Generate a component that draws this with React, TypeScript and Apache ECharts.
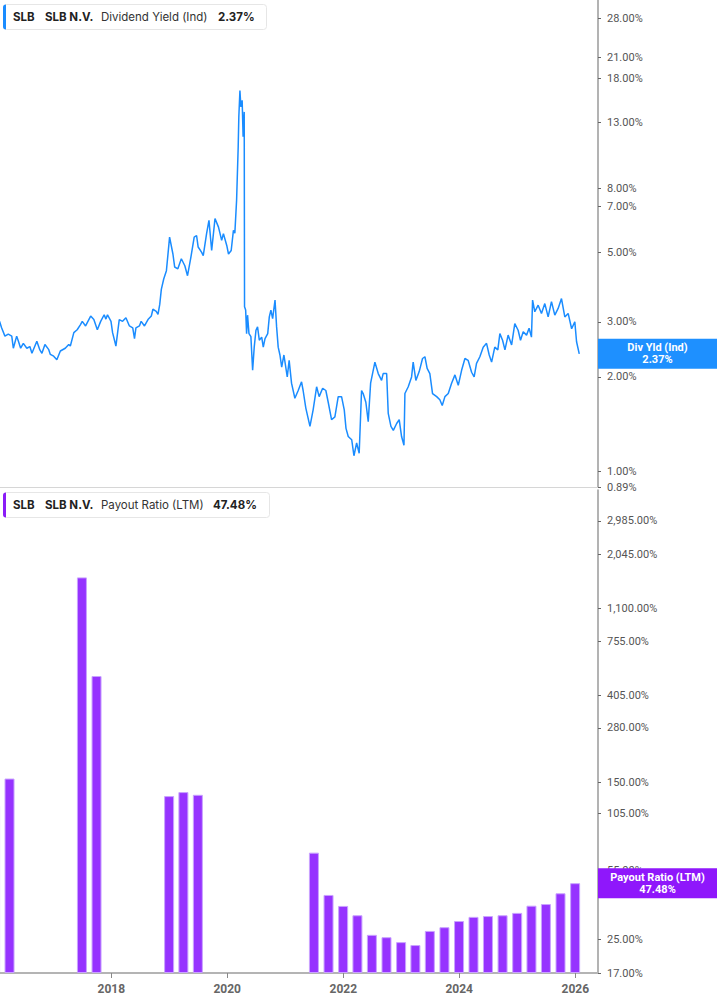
import React, { useEffect, useRef } from 'react';
import * as echarts from 'echarts';

// ---------- Data ----------
const yieldDates = [
  '2016-01-28','2016-02-10','2016-03-02','2016-03-23','2016-04-14','2016-04-24','2016-05-15','2016-05-26','2016-06-09','2016-06-26',
  '2016-07-18','2016-08-06','2016-08-19','2016-09-19','2016-10-08','2016-10-21','2016-11-09','2016-12-02','2016-12-13',
  '2017-01-03','2017-01-23','2017-02-14','2017-03-17','2017-04-08','2017-04-18','2017-05-10','2017-05-31','2017-06-21','2017-07-02',
  '2017-07-23','2017-08-24','2017-09-13','2017-10-05','2017-10-26','2017-11-17','2017-11-28','2017-12-08','2017-12-30',
  '2018-01-09','2018-01-30','2018-02-20','2018-03-13','2018-04-03','2018-04-25','2018-05-16','2018-05-27','2018-06-05','2018-06-27',
  '2018-07-08','2018-07-29','2018-08-20','2018-09-10','2018-09-20','2018-10-11','2018-10-22','2018-11-02','2018-11-12','2018-11-27',
  '2018-12-14','2019-01-03',
  '2019-01-24','2019-02-04','2019-02-24','2019-03-18','2019-04-09','2019-04-26','2019-05-17','2019-06-07','2019-06-22','2019-07-02',
  '2019-07-24','2019-08-03','2019-08-24','2019-09-08','2019-09-25','2019-10-16','2019-11-07','2019-11-27','2019-12-08','2019-12-29',
  '2020-01-09','2020-01-26','2020-02-09','2020-02-18','2020-02-29','2020-03-10','2020-03-14','2020-03-21','2020-03-27','2020-04-04',
  '2020-04-10','2020-04-17','2020-04-19','2020-04-26','2020-05-02','2020-05-08','2020-05-17','2020-05-29','2020-06-09','2020-06-19',
  '2020-06-30','2020-07-10','2020-07-21','2020-08-05','2020-08-15','2020-08-26','2020-09-12','2020-09-22','2020-10-02','2020-10-13',
  '2020-10-28','2020-11-07','2020-11-17','2020-11-28','2020-12-09','2020-12-23',
  '2021-01-13','2021-01-25','2021-02-09','2021-03-02','2021-03-23','2021-04-13','2021-04-23','2021-05-10','2021-06-05','2021-06-25',
  '2021-07-17','2021-08-02','2021-08-24','2021-09-13','2021-09-28','2021-10-19','2021-11-09','2021-11-30','2021-12-21',
  '2022-01-07','2022-01-18','2022-02-01','2022-02-23','2022-03-09','2022-03-26','2022-04-11','2022-04-26','2022-05-06','2022-05-23',
  '2022-06-07','2022-06-22','2022-07-19','2022-08-09','2022-08-30','2022-09-09','2022-10-01','2022-10-11','2022-10-28','2022-11-12',
  '2022-12-03','2022-12-19',
  '2023-01-03','2023-01-18','2023-01-24','2023-02-14','2023-03-07','2023-03-17','2023-04-03','2023-04-24','2023-05-15','2023-05-30',
  '2023-06-13','2023-06-30','2023-07-17','2023-08-12','2023-09-01','2023-09-16','2023-10-03','2023-10-24','2023-11-14','2023-12-05',
  '2023-12-26',
  '2024-01-16','2024-02-06','2024-02-26','2024-03-19','2024-04-04','2024-04-19','2024-05-10','2024-05-31','2024-06-21','2024-07-08',
  '2024-07-23','2024-08-12','2024-08-31','2024-09-13','2024-09-30','2024-10-15','2024-11-04','2024-11-26','2024-12-16',
  '2025-01-06','2025-01-21','2025-02-07','2025-02-28','2025-03-16','2025-03-31','2025-04-07','2025-04-21','2025-05-12','2025-06-02',
  '2025-06-23','2025-07-14','2025-08-04','2025-08-25','2025-09-15','2025-10-06','2025-10-27','2025-11-17','2025-12-09','2025-12-29',
  '2026-01-09','2026-01-26',
];
const yieldValues = [
  3.01,2.87,2.70,2.74,2.70,2.47,2.70,2.60,2.47,2.56,
  2.47,2.50,2.38,2.60,2.44,2.38,2.54,2.45,2.36,
  2.33,2.27,2.42,2.47,2.54,2.51,2.77,2.83,2.94,3.01,
  2.91,3.13,3.05,2.83,3.01,3.16,3.06,3.16,3.01,
  2.77,2.51,3.05,3.01,3.09,2.91,2.87,2.65,2.87,2.91,
  3.01,2.91,3.05,3.13,3.29,3.24,3.17,3.41,3.81,4.11,
  4.37,5.59,
  4.94,4.49,4.43,4.77,4.53,4.21,4.82,5.59,5.66,5.20,
  5.00,4.88,5.74,6.33,5.07,6.41,6.02,5.46,5.74,5.26,
  4.94,5.07,5.88,5.76,7.34,10.84,13.5,16.45,14.57,15.3,
  11.70,14.05,3.35,3.27,2.75,3.15,2.75,2.69,2.10,2.49,
  2.82,2.89,2.62,2.68,2.49,2.65,2.75,3.11,3.27,3.07,
  3.52,2.89,2.49,2.35,2.15,2.35,
  2.00,2.26,1.91,1.71,1.81,1.93,1.81,1.59,1.39,1.57,
  1.86,1.73,1.84,1.81,1.66,1.46,1.49,1.73,1.73,
  1.57,1.37,1.29,1.26,1.12,1.23,1.14,1.81,1.77,1.66,
  1.44,1.91,2.23,2.05,1.95,2.05,2.05,1.53,1.39,1.35,
  1.42,1.46,
  1.29,1.21,1.77,1.86,2.00,2.23,1.95,2.08,2.29,2.32,
  2.13,2.05,1.77,1.73,1.69,1.62,1.73,1.77,1.91,2.03,
  1.88,
  2.10,2.29,2.26,2.07,2.00,2.21,2.32,2.49,2.56,2.35,
  2.23,2.49,2.44,2.75,2.62,2.44,2.72,2.53,2.96,
  2.82,2.62,2.79,2.72,2.86,2.68,3.52,3.23,3.39,3.19,
  3.43,3.11,3.48,3.15,3.31,3.56,3.11,3.19,2.85,3.00,
  2.59,2.37,
];

const payoutDates = [
  '2015-12-31','2016-03-31','2017-06-30','2017-09-30','2018-12-31','2019-03-31','2019-06-30',
  '2021-06-30','2021-09-30','2021-12-31','2022-03-31','2022-06-30','2022-09-30','2022-12-31',
  '2023-03-31','2023-06-30','2023-09-30','2023-12-31','2024-03-31','2024-06-30','2024-09-30',
  '2024-12-31','2025-03-31','2025-06-30','2025-09-30','2025-12-31',
];
const payoutValues = [
  115, 157, 1566, 507, 128.5, 134.5, 130.4,
  67.3, 41.5, 36.6, 32.9, 26.3, 25.6, 24.2,
  23.4, 27.5, 28.7, 30.8, 32.3, 32.6, 32.9,
  33.8, 36.7, 37.4, 42.3, 47.48,
];

const yieldTicks = [28, 21, 18, 13, 8, 7, 5, 3, 2, 1, 0.89];
const payoutTicks = [2985, 2045, 1100, 755, 405, 280, 150, 105, 55, 45, 25, 17];
const yearTicks = ['2018-01-01', '2020-01-01', '2022-01-01', '2024-01-01', '2026-01-01'];
const yieldRange = [0.89, 32.0];
const payoutRange = [17, 4253];
const xRange = ['2016-01-31', '2026-05-24'];

const lastYield = 2.37;
const lastPayout = 47.48;

const BLUE = '#1a8cff';
const TAG_BLUE = '#1e90ff';
const PURPLE = '#9633ff';
const TAG_PURPLE = '#8f17fb';
const AXIS_FONT = 'Roboto';
const LEGEND_FONT = 'Inter';

const lg = (v: number) => Math.log10(v);
const ts = (d: string) => Date.parse(d + 'T00:00:00Z');
const fmtPct = (v: number) =>
  Math.pow(10, v).toLocaleString('en-US', { minimumFractionDigits: 2, maximumFractionDigits: 2 }) + '%';

function legend(y: number, color: string, name: string, value: string, w: number, valueX: number) {
  const font = (b: boolean) => `${b ? 'bold ' : ''}11.5px ${LEGEND_FONT}`;
  return [
    {
      type: 'rect',
      shape: { x: 3.5, y: y + 0.5, width: w, height: 25, r: 3 },
      style: { fill: '#fff', stroke: '#e6e6e6', lineWidth: 1 },
      z: 100,
    },
    {
      type: 'rect',
      shape: { x: 3, y: y + 0.5, width: 3, height: 25, r: [3, 0, 0, 3] },
      style: { fill: color },
      z: 101,
    },
    {
      type: 'text', x: 13, y: y + 13, z: 101,
      style: { text: 'SLB', font: font(true), fill: '#222', verticalAlign: 'middle' },
    },
    {
      type: 'text', x: 45, y: y + 13, z: 101,
      style: { text: 'SLB N.V.', font: font(true), fill: '#222', verticalAlign: 'middle' },
    },
    {
      type: 'text', x: 101, y: y + 13, z: 101,
      style: { text: name, font: font(false), fill: '#333', verticalAlign: 'middle' },
    },
    {
      type: 'text', x: valueX, y: y + 13, z: 101,
      style: { text: value, font: font(true), fill: '#222', verticalAlign: 'middle' },
    },
  ];
}

function tagLabel(title: string, value: string, bg: string) {
  return {
    show: true,
    position: 'end',
    distance: 0,
    formatter: `{a|${title}}\n{a|${value}}`,
    backgroundColor: bg,
    padding: [3, 3],
    rich: {
      a: {
        width: 113,
        align: 'center',
        color: '#fff',
        fontWeight: 'bold',
        fontSize: 11,
        lineHeight: 12,
        fontFamily: AXIS_FONT,
      },
    },
  };
}

const hiddenLine = { color: 'rgba(0,0,0,0)', width: 1, type: 'solid' };

export default function App() {
  const ref = useRef<HTMLDivElement>(null);

  useEffect(() => {
    if (!ref.current) return;
    const chart = echarts.init(ref.current, undefined, { renderer: 'svg' });

    const yAxisCommon = (range: number[], ticks: number[]) => ({
      type: 'value',
      position: 'right',
      min: lg(range[0]),
      max: lg(range[1]),
      splitLine: { show: false },
      axisLine: { show: true, lineStyle: { color: '#9a9a9a', width: 1.5 } },
      axisTick: {
        show: true,
        length: 3,
        lineStyle: { color: '#666' },
        customValues: ticks.map(lg),
      },
      axisLabel: {
        show: true,
        margin: 9,
        color: '#555',
        fontSize: 11,
        fontFamily: AXIS_FONT,
        customValues: ticks.map(lg),
        formatter: (v: number) => fmtPct(v),
      },
    });

    const xAxisCommon = {
      type: 'value',
      min: ts(xRange[0]),
      max: ts(xRange[1]),
      splitLine: { show: false },
    };

    const option: any = {
      animation: false,
      backgroundColor: '#fff',
      grid: [
        { left: 0, right: 119, top: 0, height: 487, outerBoundsMode: 'none' },
        { left: 0, right: 119, top: 490, height: 483, outerBoundsMode: 'none' },
      ],
      xAxis: [
        {
          gridIndex: 0,
          ...xAxisCommon,
          axisLine: { show: true, onZero: false, lineStyle: { color: '#d6d6d6', width: 1 } },
          axisTick: { show: false },
          axisLabel: { show: false },
        },
        {
          gridIndex: 1,
          ...xAxisCommon,
          axisLine: { show: true, onZero: false, lineStyle: { color: '#b4b4b4', width: 2 } },
          axisTick: {
            show: true,
            length: 5,
            lineStyle: { color: '#888' },
            customValues: yearTicks.map(ts),
          },
          axisLabel: {
            show: true,
            margin: 10,
            color: '#666',
            fontSize: 12,
            fontWeight: 'bold',
            fontFamily: AXIS_FONT,
            customValues: yearTicks.map(ts),
            formatter: (v: number) => String(new Date(v + 86400000).getUTCFullYear()),
          },
        },
      ],
      yAxis: [
        { gridIndex: 0, ...yAxisCommon(yieldRange, yieldTicks) },
        { gridIndex: 1, ...yAxisCommon(payoutRange, payoutTicks), startValue: lg(payoutRange[0]) },
      ],
      graphic: [
        ...legend(4, BLUE, 'Dividend Yield (Ind)', `${lastYield.toFixed(2)}%`, 263, 218),
        ...legend(492, '#8a1cf7', 'Payout Ratio (LTM)', `${lastPayout.toFixed(2)}%`, 266, 213),
      ],
      series: [
        {
          type: 'line',
          xAxisIndex: 0,
          yAxisIndex: 0,
          showSymbol: false,
          symbol: 'none',
          clip: true,
          lineStyle: { color: BLUE, width: 1.5 },
          data: yieldDates.map((d, i) => [ts(d), lg(yieldValues[i])]),
          markLine: {
            silent: true,
            symbol: ['none', 'none'],
            precision: 6,
            z: 10,
            lineStyle: hiddenLine,
            label: tagLabel('Div Yld (Ind)', `${lastYield.toFixed(2)}%`, TAG_BLUE),
            data: [{ yAxis: lg(lastYield) }],
          },
        },
        {
          type: 'bar',
          xAxisIndex: 1,
          yAxisIndex: 1,
          barWidth: 10,
          clip: true,
          itemStyle: { color: PURPLE, borderColor: '#c9a3ff', borderWidth: 1 },
          data: payoutDates.map((d, i) => [ts(d), lg(payoutValues[i])]),
          markLine: {
            silent: true,
            symbol: ['none', 'none'],
            precision: 6,
            z: 10,
            lineStyle: hiddenLine,
            label: tagLabel('Payout Ratio (LTM)', `${lastPayout.toFixed(2)}%`, TAG_PURPLE),
            data: [{ yAxis: lg(lastPayout) }],
          },
        },
      ],
    };

    chart.setOption(option);
    return () => chart.dispose();
  }, []);

  return <div ref={ref} style={{ width: 717, height: 1005, position: 'absolute', left: 0, top: 0 }} />;
}
